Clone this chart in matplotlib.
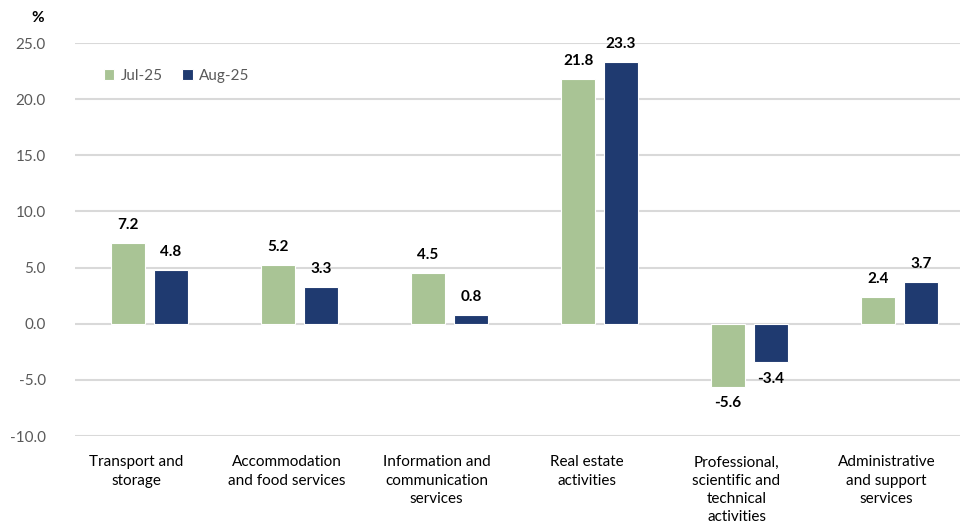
import numpy as np
import matplotlib
matplotlib.use("Agg")
import matplotlib.pyplot as plt
from matplotlib.transforms import ScaledTranslation

plt.rcParams["font.family"] = ["Lato", "DejaVu Sans"]

categories = ["Transport and\nstorage", "Accommodation\nand food services",
              "Information and\ncommunication\nservices", "Real estate\nactivities",
              "Professional,\nscientific and\ntechnical\nactivities",
              "Administrative\nand support\nservices"]
jul25 = [7.2, 5.2, 4.5, 21.8, -5.6, 2.4]
aug25 = [4.8, 3.3, 0.8, 23.3, -3.4, 3.7]
series = [("Jul-25", jul25, "#A9C495"), ("Aug-25", aug25, "#1F3A70")]

fig = plt.figure(figsize=(9.6, 5.28), dpi=100)
ax = fig.add_axes([75/960, 1-436/528, 885/960, (436-43)/528])

x = np.arange(len(categories))
w = 0.227
offs = [-0.143, 0.143]
for (name, vals, col), off in zip(series, offs):
    bars = ax.bar(x + off, vals, w, color=col, edgecolor="white", linewidth=0.8,
                  label=name, zorder=3)
    for b, v in zip(bars, vals):
        dy, va = (8, "bottom") if v >= 0 else (-7, "top")
        ax.annotate(f"{v:.1f}", (b.get_x()+b.get_width()/2, v), xytext=(0, dy),
                    textcoords="offset points", ha="center", va=va,
                    fontsize=11, fontweight="bold", color="black")

ax.set_ylim(-10, 25)
ax.set_xlim(-0.497, 5.403)
ax.set_yticks(np.arange(-10, 26, 5))
ax.set_yticklabels([f"{t:.1f}" for t in np.arange(-10, 26, 5)])
ax.yaxis.grid(True, color="#D9D9D9", linewidth=1.5, zorder=0)
ax.set_axisbelow(True)
for s in ax.spines.values():
    s.set_visible(False)
ax.tick_params(axis="y", length=0, pad=21, labelsize=11, labelcolor="#595959")
ax.set_xticks(x)
ax.set_xticklabels(categories, fontsize=11, color="black", linespacing=1.38,
                   va="top", ha="center")
ax.tick_params(axis="x", length=0, pad=14)
# category labels sit a little left of the bar pairs
shift = ScaledTranslation(-13/100, 0, fig.dpi_scale_trans)
for lab in ax.get_xticklabels():
    lab.set_transform(lab.get_transform() + shift)

fig.text(38/960, 1-18/528, "%", fontsize=11, fontweight="bold", ha="center", va="center")
ax.legend(loc="upper left", bbox_to_anchor=(0.017, 0.97), ncol=2, frameon=False,
          fontsize=11, labelcolor="#595959", handlelength=0.7, handleheight=0.7,
          handletextpad=0.4, columnspacing=1.3)

fig.savefig("out.png", dpi=100)
